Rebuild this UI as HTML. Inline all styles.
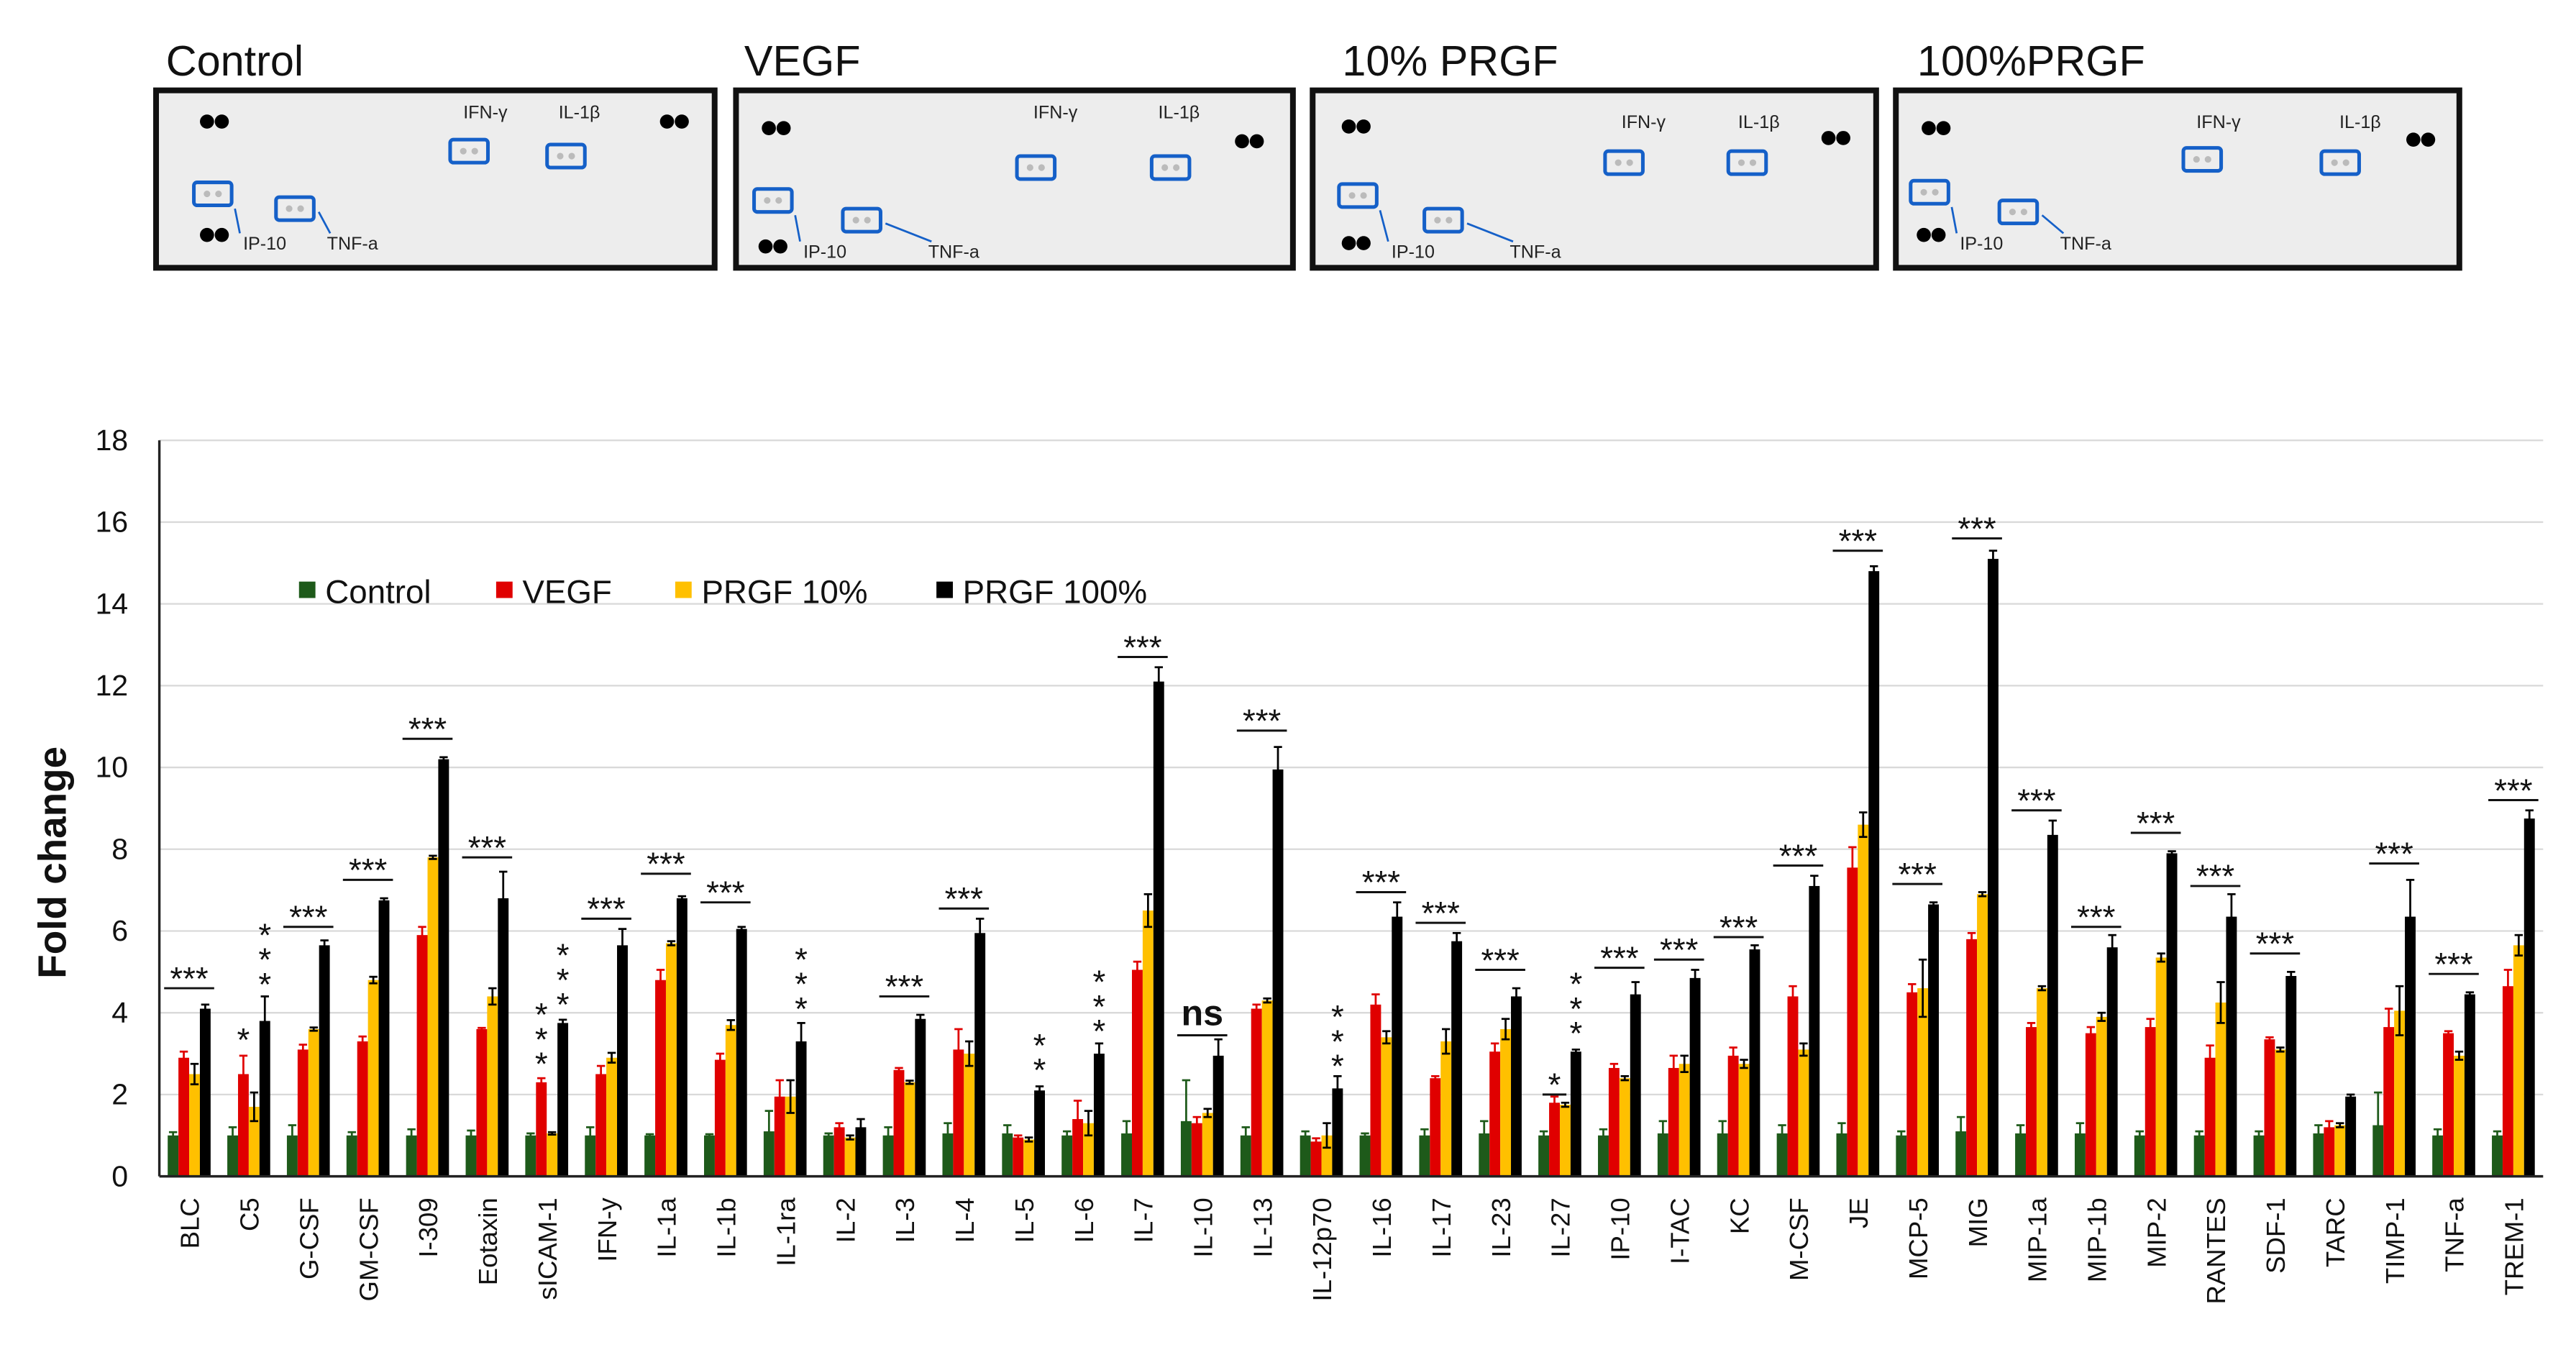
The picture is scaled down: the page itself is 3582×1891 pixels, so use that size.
<!DOCTYPE html>
<html><head><meta charset="utf-8"><style>
html,body{margin:0;padding:0;background:#fff;}
svg{display:block;font-family:"Liberation Sans",Arial,sans-serif;}
</style></head><body>
<svg id="fig" width="3582" height="1891" viewBox="0 0 1568 827.8" preserveAspectRatio="none" xmlns="http://www.w3.org/2000/svg">
<g id="panels"></g>
<g id="chart"></g>
</svg>
<script>
const categories=["BLC","C5","G-CSF","GM-CSF","I-309","Eotaxin","sICAM-1","IFN-y","IL-1a","IL-1b","IL-1ra","IL-2","IL-3","IL-4","IL-5","IL-6","IL-7","IL-10","IL-13","IL-12p70","IL-16","IL-17","IL-23","IL-27","IP-10","I-TAC","KC","M-CSF","JE","MCP-5","MIG","MIP-1a","MIP-1b","MIP-2","RANTES","SDF-1","TARC","TIMP-1","TNF-a","TREM-1"];
const controlVals=[1,1,1,1,1,1,1,1,1,1,1.1,1,1,1.05,1.05,1,1.05,1.35,1,1,1,1,1.05,1,1,1.05,1.05,1.05,1.05,1,1.1,1.05,1.05,1,1,1,1.05,1.25,1,1];
const vegfVals=[2.9,2.5,3.1,3.3,5.9,3.6,2.3,2.5,4.8,2.85,1.95,1.2,2.6,3.1,0.95,1.4,5.05,1.3,4.1,0.85,4.2,2.4,3.05,1.8,2.65,2.65,2.95,4.4,7.55,4.5,5.8,3.65,3.5,3.65,2.9,3.35,1.2,3.65,3.5,4.65];
const prgf10Vals=[2.5,1.7,3.6,4.8,7.8,4.4,1.05,2.9,5.7,3.7,1.95,0.95,2.3,3.0,0.9,1.3,6.5,1.55,4.3,1.0,3.4,3.3,3.6,1.75,2.4,2.75,2.75,3.1,8.6,4.6,6.9,4.6,3.9,5.35,4.25,3.1,1.25,4.05,2.95,5.65];
const prgf100Vals=[4.1,3.8,5.65,6.75,10.2,6.8,3.75,5.65,6.8,6.05,3.3,1.2,3.85,5.95,2.1,3.0,12.1,2.95,9.95,2.15,6.35,5.75,4.4,3.05,4.45,4.85,5.55,7.1,14.8,6.65,15.1,8.35,5.6,7.9,6.35,4.9,1.95,6.35,4.45,8.75];
const controlErr=[0.08,0.2,0.25,0.08,0.15,0.12,0.05,0.2,0.03,0.03,0.5,0.05,0.2,0.25,0.2,0.1,0.3,1.0,0.2,0.1,0.05,0.15,0.3,0.1,0.15,0.3,0.3,0.2,0.25,0.1,0.35,0.2,0.25,0.1,0.1,0.1,0.2,0.8,0.15,0.1];
const vegfErr=[0.15,0.45,0.12,0.12,0.2,0.03,0.1,0.2,0.25,0.15,0.4,0.1,0.05,0.5,0.05,0.45,0.2,0.15,0.1,0.08,0.25,0.05,0.2,0.15,0.1,0.3,0.2,0.25,0.5,0.2,0.15,0.1,0.15,0.2,0.3,0.05,0.15,0.45,0.05,0.4];
const prgf10Err=[0.25,0.35,0.04,0.08,0.04,0.2,0.03,0.12,0.05,0.12,0.4,0.05,0.04,0.3,0.05,0.3,0.4,0.1,0.05,0.3,0.15,0.3,0.25,0.05,0.05,0.2,0.1,0.15,0.3,0.7,0.05,0.05,0.1,0.1,0.5,0.05,0.05,0.6,0.1,0.25];
const prgf100Err=[0.1,0.6,0.12,0.05,0.05,0.65,0.08,0.4,0.05,0.05,0.45,0.2,0.1,0.35,0.1,0.25,0.35,0.4,0.55,0.3,0.35,0.2,0.2,0.05,0.3,0.2,0.1,0.25,0.12,0.05,0.2,0.35,0.3,0.05,0.55,0.1,0.05,0.9,0.05,0.2];
const yTicks=[0,2,4,6,8,10,12,14,16,18];
const seriesNames=["Control","VEGF","PRGF 10%","PRGF 100%"];
const sigCats=[0,2,3,4,5,7,8,9,12,13,16,17,18,20,21,22,23,24,25,26,27,28,29,30,31,32,33,34,35,37,38,39];
const sigLevels=[4.6,6.1,7.25,10.7,7.8,6.3,7.4,6.7,4.4,6.55,12.7,3.45,10.9,6.95,6.2,5.05,2.0,5.1,5.3,5.85,7.6,15.3,7.15,15.6,8.95,6.1,8.4,7.1,5.45,7.65,4.95,9.2];
const sigTexts=["***","***","***","***","***","***","***","***","***","***","***","ns","***","***","***","***","*","***","***","***","***","***","***","***","***","***","***","***","***","***","***","***"];
const vCats=[1,6,6,10,14,15,19,23];
const vSeries=[3,1,3,3,3,3,3,3];
const vStart=[4.5,2.55,4.0,3.9,2.4,3.35,2.5,3.3];
const vCounts=[3,3,3,3,2,3,3,3];

const NS="http://www.w3.org/2000/svg";
function mk(tag,attrs,parent,text){const e=document.createElementNS(NS,tag);for(const k in attrs)e.setAttribute(k,attrs[k]);if(text!==undefined)e.textContent=text;parent.appendChild(e);return e;}

const panels=document.getElementById('panels');
const pTitles=["Control","VEGF","10% PRGF","100%PRGF"];
const pBoxes=[[95,55,340,108],[448,55,339,108],[799,55,343,108],[1154,55,343,108]];
const pTitleX=[101,453,817,1167];
const pLayout=[
 {tl:[130,74],tr:[410,74],bl:[130,143],ifn:[274,85],il1:[333,88],ip:[118,111],tnf:[168,120],ifnL:[282,72],il1L:[340,72],ipL:[148,152],tnfL:[199,152]},
 {tl:[472,78],tr:[760,86],bl:[470,150],ifn:[619,95],il1:[701,95],ip:[459,115],tnf:[513,127],ifnL:[629,72],il1L:[705,72],ipL:[489,157],tnfL:[565,157]},
 {tl:[825,77],tr:[1117,84],bl:[825,148],ifn:[977,92],il1:[1052,92],ip:[815,112],tnf:[867,127],ifnL:[987,78],il1L:[1058,78],ipL:[847,157],tnfL:[919,157]},
 {tl:[1178,78],tr:[1473,85],bl:[1175,143],ifn:[1329,90],il1:[1413,92],ip:[1163,110],tnf:[1217,122],ifnL:[1337,78],il1L:[1424,78],ipL:[1193,152],tnfL:[1254,152]}
];
for(let p=0;p<4;p++){
 const g=mk('g',{},panels);
 
 
 const t=mk('text',{x:pTitleX[p],y:46,'font-size':26,fill:'#111'},g,pTitles[p]);
 
 
 const b=pBoxes[p];
 const r=mk('rect',{x:b[0],y:b[1],width:b[2],height:b[3],fill:'#ededed',stroke:'#111','stroke-width':3.5},g);
 
 
 const L=pLayout[p];
 for(const d of [L.tl,L.tr,L.bl]){mk('circle',{cx:d[0]-4,cy:d[1],r:4.3,fill:'#000'},g);mk('circle',{cx:d[0]+5,cy:d[1],r:4.3,fill:'#000'},g);}
 for(const key of ['ifn','il1','ip','tnf']){const q=L[key];
  mk('rect',{x:q[0],y:q[1],width:23,height:14,rx:2,fill:'none',stroke:'#1560c8','stroke-width':2.2},g);
  mk('circle',{cx:q[0]+8,cy:q[1]+7,r:2,fill:'#bbb'},g);mk('circle',{cx:q[0]+15,cy:q[1]+7,r:2,fill:'#bbb'},g);}
 mk('text',{x:L.ifnL[0],y:L.ifnL[1],'font-size':11,fill:'#222'},g,'IFN-γ');
 mk('text',{x:L.il1L[0],y:L.il1L[1],'font-size':11,fill:'#222'},g,'IL-1β');
 mk('text',{x:L.ipL[0],y:L.ipL[1],'font-size':11,fill:'#222'},g,'IP-10');
 mk('text',{x:L.tnfL[0],y:L.tnfL[1],'font-size':11,fill:'#222'},g,'TNF-a');
 mk('line',{x1:L.ip[0]+25,y1:L.ip[1]+16,x2:L.ipL[0]-2,y2:L.ipL[1]-10,stroke:'#1560c8','stroke-width':1.2},g);
 mk('line',{x1:L.tnf[0]+26,y1:L.tnf[1]+9,x2:L.tnfL[0]+2,y2:L.tnfL[1]-10,stroke:'#1560c8','stroke-width':1.2},g);
}

const chart=document.getElementById('chart');
const X0=97,X1=1548,Y0=716,YTOP=268,YMAX=18;
const catW=(X1-X0)/categories.length;
const barW=catW*0.18;
function y(v){return Y0-v/YMAX*(Y0-YTOP);}
function xc(i){return X0+(i+0.5)*catW;}
function xb(i,s){return xc(i)+(s-2)*barW;}
const colors=["#1e5a1a","#e00000","#ffc000","#000000"];
const vals=[controlVals,vegfVals,prgf10Vals,prgf100Vals];
const errs=[controlErr,vegfErr,prgf10Err,prgf100Err];

for(const t of yTicks){
 if(t>0){const gl=mk('line',{x1:X0,x2:X1,y1:y(t),y2:y(t),stroke:'#d9d9d9','stroke-width':1},chart);
 
 }
 const tl=mk('text',{x:78,y:y(t)+6,'font-size':18,'text-anchor':'end',fill:'#111'},chart,String(t));
 
 
}
const yt=mk('text',{transform:'translate(40,525) rotate(-90)','font-size':24,'font-weight':'bold','text-anchor':'middle',fill:'#111'},chart,'Fold change');



for(let i=0;i<categories.length;i++){
 for(let s=0;s<4;s++){
  const v=vals[s][i],e=errs[s][i];
  const r=mk('rect',{x:xb(i,s),y:y(v),width:barW,height:Y0-y(v),fill:colors[s]},chart);
  
  
  const cx=xb(i,s)+barW/2, ec=s===0?'#1e5a1a':(s===1?'#e00000':'#000');
  mk('line',{x1:cx,x2:cx,y1:y(v+e),y2:y(Math.max(v-e,0)),stroke:ec,'stroke-width':1.2},chart);
  mk('line',{x1:cx-2.5,x2:cx+2.5,y1:y(v+e),y2:y(v+e),stroke:ec,'stroke-width':1.2},chart);
  mk('line',{x1:cx-2.5,x2:cx+2.5,y1:y(Math.max(v-e,0)),y2:y(Math.max(v-e,0)),stroke:ec,'stroke-width':1.2},chart);
 }
 const cl=mk('text',{transform:'translate('+(xc(i)+6)+',729) rotate(-90)','font-size':16,'text-anchor':'end',fill:'#111'},chart,categories[i]);
 
 
}
const ax=mk('line',{x1:X0,x2:X1,y1:Y0,y2:Y0,stroke:'#222','stroke-width':1.5},chart);


const ay=mk('line',{x1:X0,x2:X0,y1:YTOP,y2:Y0,stroke:'#222','stroke-width':1.5},chart);



for(let k=0;k<sigCats.length;k++){
 const i=sigCats[k],lv=sigLevels[k],txt=sigTexts[k];
 const short=txt==='*';
 const half=short?catW*0.2:catW*0.42;
 const cx=short?xc(i)-barW*0.5:xc(i);
 const l=mk('line',{x1:cx-half,x2:cx+half,y1:y(lv),y2:y(lv),stroke:'#111','stroke-width':1.3},chart);
 
 
 const t=mk('text',{x:cx,y:txt==='ns'?y(lv)-6:y(lv)+1,'font-size':txt==='ns'?22:20,'font-weight':txt==='ns'?'bold':'normal','text-anchor':'middle',fill:'#111'},chart,txt);
 
 
}
const c5=mk('text',{x:xb(1,1)+barW/2,y:y(3.3)+6,'font-size':20,'text-anchor':'middle',fill:'#111'},chart,'*');


for(let k=0;k<vCats.length;k++){
 const cx=xb(vCats[k],vSeries[k])+barW/2;
 for(let n=0;n<vCounts[k];n++){
  const t=mk('text',{x:cx,y:y(vStart[k])+2-n*15,'font-size':20,'text-anchor':'middle',fill:'#111'},chart,'*');
  
  
 }
}

const legX=[182,302,411,570];
for(let s=0;s<4;s++){
 const g=mk('g',{},chart);
 
 
 mk('rect',{x:legX[s],y:354,width:10,height:10,fill:colors[s]},g);
 mk('text',{x:legX[s]+16,y:367,'font-size':20,fill:'#111'},g,seriesNames[s]);
}
</script>
</body></html>
